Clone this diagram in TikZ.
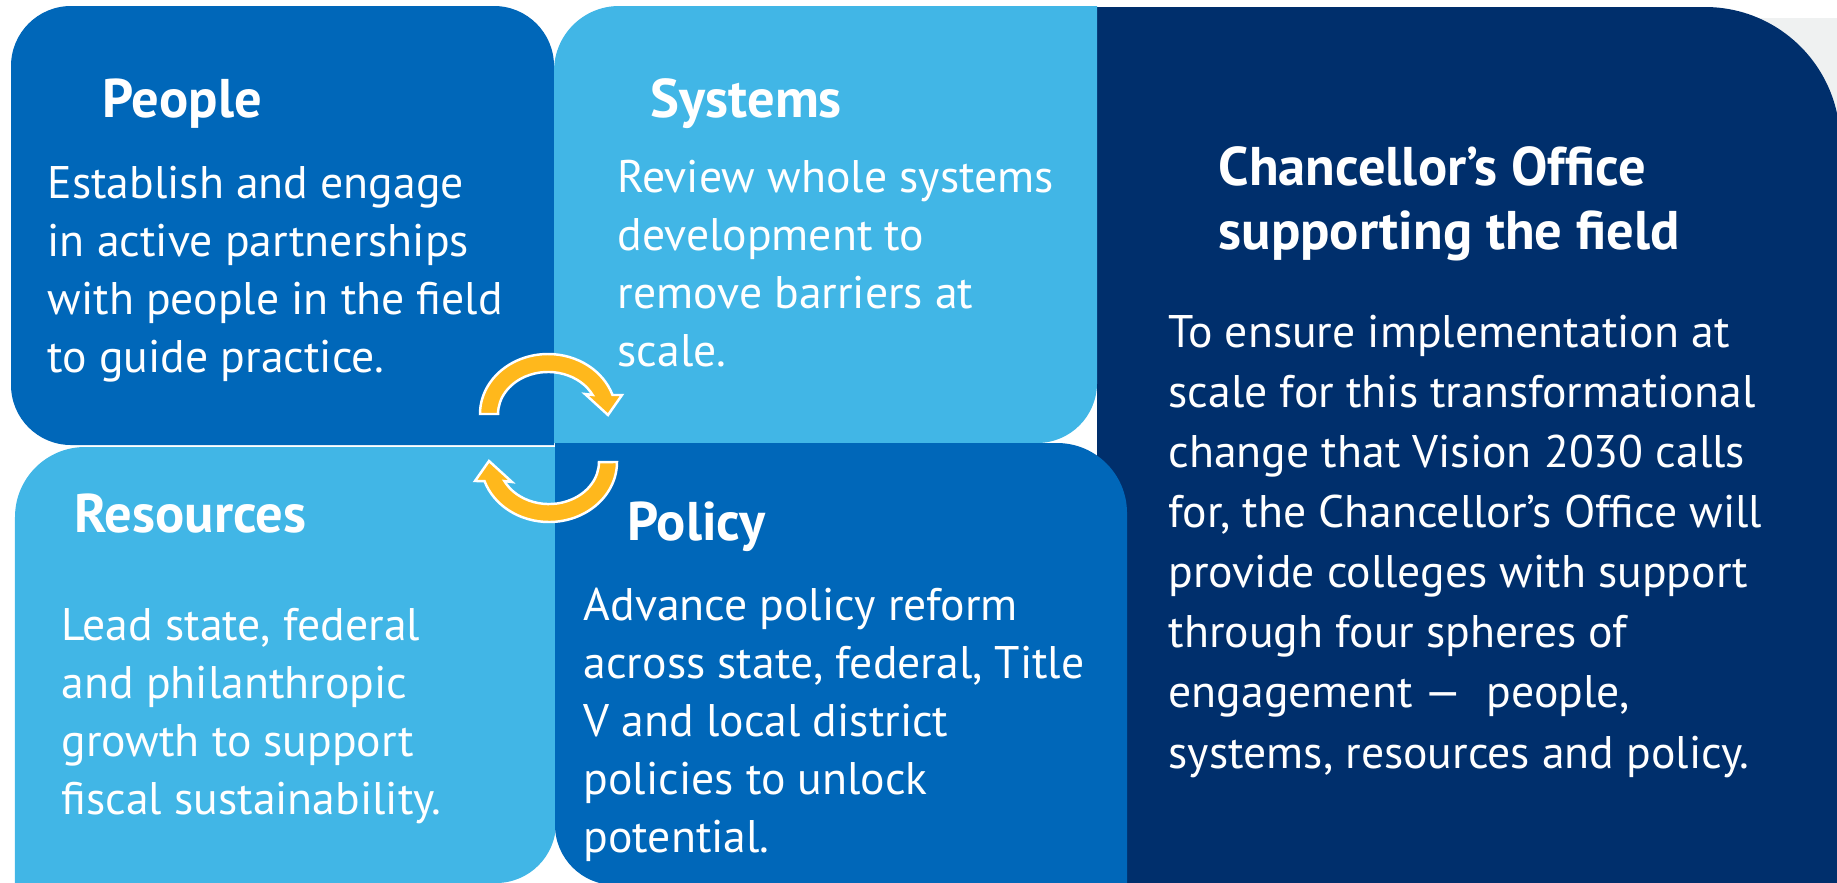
\documentclass[tikz,border=0pt]{standalone}
\usepackage{fontspec}
\setmainfont{PT Sans}
\usepackage{tikz}

\definecolor{peopleblue}{HTML}{0067B9}
\definecolor{skyblue}{HTML}{41B6E6}
\definecolor{navyblue}{HTML}{002F6C}
\definecolor{turnorange}{HTML}{FFB81C}
\definecolor{cornergray}{HTML}{EFF1F1}

\newcommand\cardtitle{\bfseries\fontsize{15.5}{18.2}\selectfont}
\newcommand\cardtext{\fontsize{13}{16.5}\selectfont}

% multi-line nodes sit on the baseline of their last line
\tikzset{
  headline/.style={anchor=base west, inner sep=0pt, text=white, align=left, font=\cardtitle},
  bodytext/.style={anchor=base west, inner sep=0pt, text=white, align=left, font=\cardtext},
  turnarrow/.style={fill=turnorange, draw=white, line width=0.7pt, line join=miter},
}

\begin{document}
\begin{tikzpicture}
  \useasboundingbox (0,0) rectangle (18.37,8.82);
  \clip (0,0) rectangle (18.37,8.82);

  % faint gray behind the office corner
  \fill[cornergray] (17.2,6.5) rectangle (18.37,8.64);

  % office panel
  \fill[navyblue] (10.97,-0.05) -- (10.97,8.75) -- (17.05,8.75)
        arc[start angle=90, end angle=0, radius=1.35] -- (18.40,-0.05) -- cycle;

  % people
  \fill[peopleblue] (5.54,4.37) -- (0.71,4.37) arc[start angle=270, end angle=180, radius=0.6]
        -- (0.11,8.16) arc[start angle=180, end angle=90, radius=0.6]
        -- (4.94,8.76) arc[start angle=90, end angle=0, radius=0.6] -- cycle;

  % systems
  \fill[skyblue] (5.54,4.39) -- (5.54,8.11) arc[start angle=180, end angle=90, radius=0.65]
        -- (10.97,8.76) -- (10.97,4.99) arc[start angle=0, end angle=-90, radius=0.6] -- cycle;

  % resources
  \fill[skyblue] (0.15,-0.05) -- (0.15,3.65) arc[start angle=180, end angle=90, radius=0.7]
        -- (5.56,4.35) -- (5.56,0.59) arc[start angle=0, end angle=-90, radius=0.6] -- cycle;

  % policy
  \fill[peopleblue] (5.55,4.39) -- (10.57,4.39) arc[start angle=90, end angle=0, radius=0.7]
        -- (11.27,-0.05) -- (6.15,-0.03) arc[start angle=270, end angle=180, radius=0.6] -- cycle;

  % turning arrows
  \fill[turnarrow] (4.80,4.68) arc[start angle=180, end angle=18.5, x radius=0.68, y radius=0.60]
        -- (6.22,4.87) -- (6.08,4.67) -- (5.85,4.88) -- (5.926,4.871)
        arc[start angle=27, end angle=180, x radius=0.50, y radius=0.42] -- cycle;
  \begin{scope}[rotate around={180:(5.485,4.44)}]
    \fill[turnarrow] (4.80,4.68) arc[start angle=180, end angle=18.5, x radius=0.68, y radius=0.60]
          -- (6.22,4.87) -- (6.08,4.67) -- (5.85,4.88) -- (5.926,4.871)
          arc[start angle=27, end angle=180, x radius=0.50, y radius=0.42] -- cycle;
  \end{scope}

  % titles
  \node[headline] (people) at (1.02,7.65) {People};
  \node[headline] (systems) at (6.50,7.65) {Systems};
  \node[headline] (resources) at (0.74,3.50) {Resources};
  \node[headline] (policy) at (6.27,3.42) {Policy};
  \node[headline] (office) at (12.18,6.33) {Chancellor’s Office\\supporting the field};

  % texts
  \node[bodytext] (peopletext) at (0.47,5.10)
       {Establish and engage\\in active partnerships\\with people in the field\\to guide practice.};
  \node[bodytext] (systemstext) at (6.17,5.16)
       {Review whole systems\\development to\\remove barriers at\\scale.};
  \node[bodytext] (resourcestext) at (0.61,0.68)
       {Lead state, federal\\and philanthropic\\growth to support\\fiscal sustainability.};
  \node[bodytext] (policytext) at (5.83,0.30)
       {Advance policy reform\\across state, federal, Title\\V and local district\\policies to unlock\\potential.};
  \node[bodytext, font=\fontsize{13}{17.1}\selectfont] (officetext) at (11.68,1.14)
       {To ensure implementation at\\scale for this transformational\\change that Vision 2030 calls\\for, the Chancellor’s Office will\\provide colleges with support\\through four spheres of\\engagement —\ \ people,\\systems, resources and policy.};
\end{tikzpicture}
\end{document}
